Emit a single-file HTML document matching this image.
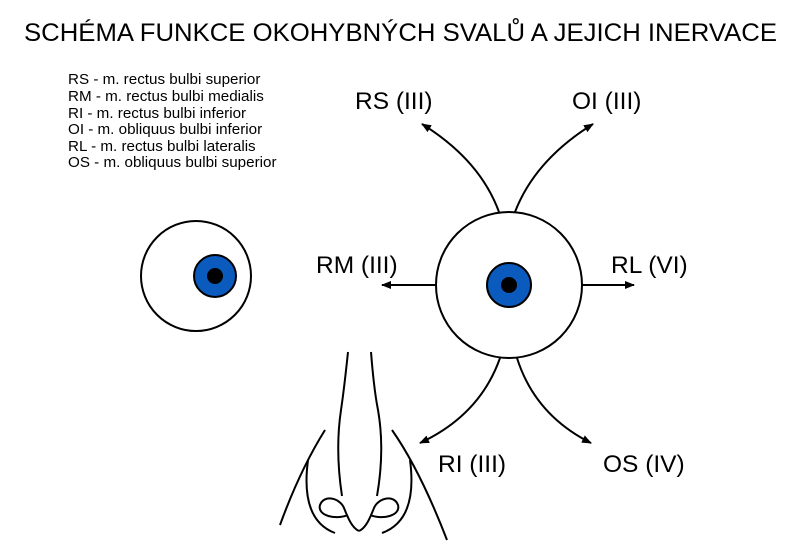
<!DOCTYPE html>
<html><head><meta charset="utf-8"><style>html,body{margin:0;padding:0;background:#fff}svg{display:block}</style></head>
<body>
<svg width="800" height="556" viewBox="0 0 800 556" xmlns="http://www.w3.org/2000/svg" font-family="Liberation Sans, sans-serif">
<defs><marker id="a" markerWidth="10" markerHeight="8" refX="9" refY="4" orient="auto" markerUnits="userSpaceOnUse"><path d="M0,0 L10,4 L0,8 z" fill="#000"/></marker></defs>
<text x="24" y="41" font-size="25" textLength="753" lengthAdjust="spacingAndGlyphs">SCHÉMA FUNKCE OKOHYBNÝCH SVALŮ A JEJICH INERVACE</text>
<g font-size="15.2">
<text x="68" y="84">RS - m. rectus bulbi superior</text>
<text x="68" y="101">RM - m. rectus bulbi medialis</text>
<text x="68" y="118">RI - m. rectus bulbi inferior</text>
<text x="68" y="134">OI - m. obliquus bulbi inferior</text>
<text x="68" y="151">RL - m. rectus bulbi lateralis</text>
<text x="68" y="167">OS - m. obliquus bulbi superior</text>
</g>
<g font-size="24.5">
<text x="355" y="109">RS (III)</text>
<text x="572" y="109">OI (III)</text>
<text x="316" y="273">RM (III)</text>
<text x="611" y="273">RL (VI)</text>
<text x="438" y="472">RI (III)</text>
<text x="603" y="472">OS (IV)</text>
</g>
<g fill="none" stroke="#000" stroke-width="2">
<circle cx="196" cy="276" r="55" fill="#fff"/>
<circle cx="509" cy="285" r="73" fill="#fff"/>
<path d="M499,212 Q480,160 422,124" marker-end="url(#a)"/>
<path d="M515,212 Q535,160 593,124" marker-end="url(#a)"/>
<path d="M436,285 L382,285" marker-end="url(#a)"/>
<path d="M582,285 L634,285" marker-end="url(#a)"/>
<path d="M500,358 Q480,415 420,443" marker-end="url(#a)"/>
<path d="M517,358 Q535,415 591,443" marker-end="url(#a)"/>
<path d="M348,352 Q344,390 341,410 Q335,450 342,496"/>
<path d="M371,352 Q374,390 378,410 Q385,450 377,496"/>
<path d="M325,430 Q300,470 280,525"/>
<path d="M392,430 Q420,470 447,540"/>
<path d="M308,460 Q300,520 335,533"/>
<path d="M410,460 Q418,520 382,533"/>
<path d="M359,531 C352,528 348,518 344,508 C340,498 324,494 320,505 C317,516 336,520 348,515"/>
<path d="M359,531 C366,528 370,518 374,508 C378,498 394,494 398,505 C401,516 382,520 370,515"/>
</g>
<circle cx="215" cy="276" r="21" fill="#0a5bbd" stroke="#000" stroke-width="2"/>
<circle cx="215" cy="276" r="8" fill="#000"/>
<circle cx="509" cy="285" r="22" fill="#0a5bbd" stroke="#000" stroke-width="2"/>
<circle cx="509" cy="285" r="8" fill="#000"/>
</svg>
</body></html>
